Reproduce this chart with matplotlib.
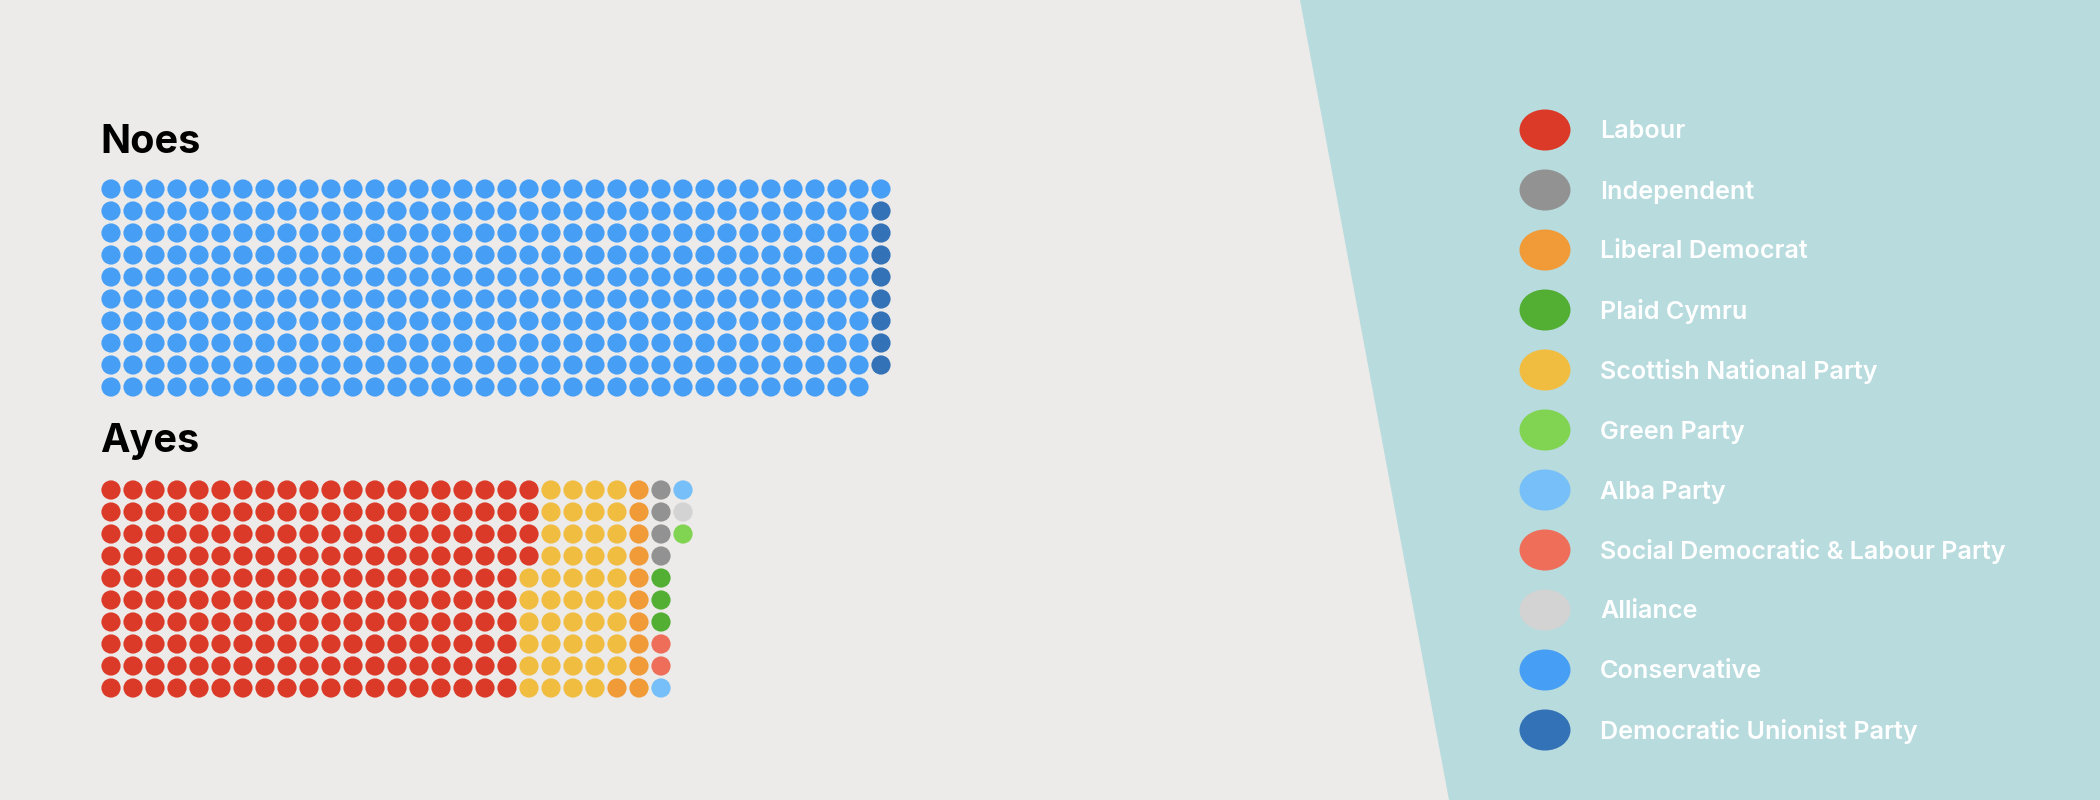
import matplotlib
matplotlib.use("Agg")
import matplotlib.pyplot as plt
from matplotlib.patches import Rectangle, Polygon, Circle, Ellipse

# ---------------- data ----------------
legend_parties = ["Labour", "Independent", "Liberal Democrat", "Plaid Cymru",
                  "Scottish National Party", "Green Party", "Alba Party",
                  "Social Democratic & Labour Party", "Alliance", "Conservative",
                  "Democratic Unionist Party"]
party_colors = ["#DC3A28", "#929292", "#F09A38", "#53AE34", "#F0BD40", "#80D452",
                "#76BFF8", "#EE6E59", "#D3D3D3", "#479FF5", "#3372B7"]

noes_parties = ["Conservative", "Democratic Unionist Party"]
noes_counts = [351, 8]

ayes_parties = ["Labour", "Scottish National Party", "Liberal Democrat", "Independent",
                "Plaid Cymru", "Social Democratic & Labour Party", "Alba Party",
                "Alliance", "Green Party"]
ayes_counts = [194, 45, 11, 4, 3, 2, 2, 1, 1]

group_titles = ["Noes", "Ayes"]

color_of = dict(zip(legend_parties, party_colors))

# ---------------- figure ----------------
W, H = 2100, 800
fig = plt.figure(figsize=(W / 100, H / 100), dpi=100)
ax = fig.add_axes([0, 0, 1, 1])
ax.set_xlim(0, W)
ax.set_ylim(H, 0)
ax.axis("off")

ax.add_patch(Rectangle((0, 0), W, H, color="#ECEBE9", zorder=0))
ax.add_patch(Polygon([(1300, 0), (W, 0), (W, H), (1449, H)], closed=True,
                     color="#B8DBDE", zorder=1, lw=0))

rows = 10
step = 22
radius = 9.6
x0 = 111


def draw_waffle(parties, counts, y0):
    idx = 0
    for p, c in zip(parties, counts):
        for _ in range(c):
            col, row = divmod(idx, rows)
            ax.add_patch(Circle((x0 + col * step, y0 + row * step), radius,
                                color=color_of[p], lw=0, zorder=3))
            idx += 1


title_font = dict(family=["Inter", "DejaVu Sans"], fontsize=28.5, fontweight="bold",
                  color="black")

ax.text(100, 153, group_titles[0], ha="left", va="baseline", **title_font, zorder=4)
draw_waffle(noes_parties, noes_counts, 189)

ax.text(100, 452, group_titles[1], ha="left", va="baseline", **title_font, zorder=4)
draw_waffle(ayes_parties, ayes_counts, 490)

# legend
for i, (p, c) in enumerate(zip(legend_parties, party_colors)):
    yc = 130 + i * 60
    ax.add_patch(Ellipse((1545, yc), 51, 41, color=c, lw=0, zorder=3))
    ax.text(1600, yc + 8.5, p, ha="left", va="baseline", color="white",
            family=["Inter", "DejaVu Sans"], fontsize=18.1, fontweight="semibold",
            zorder=4)

fig.savefig("out.png", dpi=100)
